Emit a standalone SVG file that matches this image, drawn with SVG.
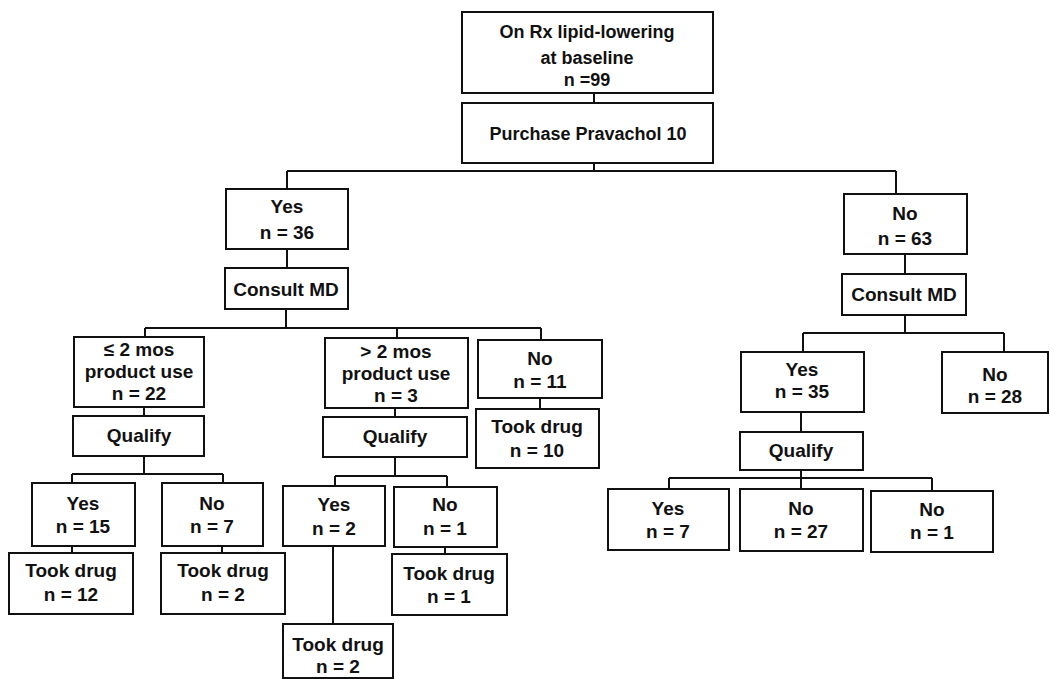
<svg xmlns="http://www.w3.org/2000/svg" width="1050" height="679" viewBox="0 0 1050 679">
<style>
.box{fill:#fff;stroke:#111;stroke-width:2}
.t{font-family:"Liberation Sans",Arial,sans-serif;font-weight:bold;font-size:19px;fill:#111;text-anchor:middle}
.r{font-size:18px}
.c{fill:none;stroke:#111;stroke-width:2}
</style>
<rect width="1050" height="679" fill="#fff"/>
<g id="connectors">
<path class="c" d="M594 93V103M594 163V171M287 171H896M287 171V189M896 171V194"/>
<path class="c" d="M287 249V268M286 309V328M145 328H541M145 328V337M397 328V338M541 328V340"/>
<path class="c" d="M144 407V416M144 456V474M72 474H223M72 474V483M223 474V483M72 546V553M222 546V553"/>
<path class="c" d="M395 408V417M395 457V476M335 476H447M335 476V486M447 476V487M333 546V624M445 547V554M540 398V409"/>
<path class="c" d="M905 254V274M905 315V333M803 333H1004M803 333V352M1004 333V352M801 412V432M801 470V478M669 478H932M669 478V489M801 478V489M932 478V491"/>
</g>
<g id="root"><rect class="box" x="462" y="12" width="251" height="81"/><text class="t r" x="587" y="38">On Rx lipid-lowering</text><text class="t r" x="587" y="64">at baseline</text><text class="t r" x="587" y="86">n =99</text></g>
<g id="purchase"><rect class="box" x="462" y="103" width="251" height="60"/><text class="t r" x="588" y="140">Purchase  Pravachol  10</text></g>
<g id="yes36"><rect class="box" x="226" y="189" width="122" height="60"/><text class="t" x="287" y="213">Yes</text><text class="t" x="287" y="239">n = 36</text></g>
<g id="consult-left"><rect class="box" x="225" y="268" width="123" height="41"/><text class="t" x="286" y="296">Consult MD</text></g>
<g id="le2mos"><rect class="box" x="74" y="337" width="130" height="70"/><text class="t" x="139" y="356">≤ 2 mos</text><text class="t" x="139" y="378">product use</text><text class="t" x="139" y="400">n = 22</text></g>
<g id="qualify-left"><rect class="box" x="73" y="416" width="131" height="40"/><text class="t" x="139" y="442">Qualify</text></g>
<g id="yes15"><rect class="box" x="32" y="483" width="103" height="63"/><text class="t" x="83" y="510">Yes</text><text class="t" x="83" y="533">n = 15</text></g>
<g id="no7"><rect class="box" x="162" y="483" width="101" height="63"/><text class="t" x="212" y="510">No</text><text class="t" x="212" y="533">n = 7</text></g>
<g id="took12"><rect class="box" x="9" y="553" width="124" height="61"/><text class="t" x="71" y="577">Took drug</text><text class="t" x="71" y="601">n = 12</text></g>
<g id="took2a"><rect class="box" x="161" y="553" width="124" height="61"/><text class="t" x="223" y="577">Took drug</text><text class="t" x="223" y="601">n = 2</text></g>
<g id="gt2mos"><rect class="box" x="325" y="338" width="143" height="70"/><text class="t" x="396" y="358">&gt; 2 mos</text><text class="t" x="396" y="380">product use</text><text class="t" x="396" y="402">n = 3</text></g>
<g id="qualify-mid"><rect class="box" x="323" y="417" width="144" height="40"/><text class="t" x="395" y="443">Qualify</text></g>
<g id="yes2"><rect class="box" x="283" y="486" width="102" height="60"/><text class="t" x="334" y="511">Yes</text><text class="t" x="334" y="535">n = 2</text></g>
<g id="no1a"><rect class="box" x="394" y="487" width="103" height="60"/><text class="t" x="445" y="511">No</text><text class="t" x="445" y="535">n = 1</text></g>
<g id="took1"><rect class="box" x="392" y="554" width="115" height="61"/><text class="t" x="449" y="580">Took drug</text><text class="t" x="449" y="603">n = 1</text></g>
<g id="took2b"><rect class="box" x="283" y="624" width="110" height="54"/><text class="t" x="338" y="651">Took drug</text><text class="t" x="338" y="673">n = 2</text></g>
<g id="no11"><rect class="box" x="478" y="340" width="124" height="58"/><text class="t" x="540" y="365">No</text><text class="t" x="540" y="388">n = 11</text></g>
<g id="took10"><rect class="box" x="476" y="409" width="123" height="59"/><text class="t" x="537" y="433">Took drug</text><text class="t" x="537" y="457">n = 10</text></g>
<g id="no63"><rect class="box" x="844" y="194" width="123" height="60"/><text class="t" x="905" y="220">No</text><text class="t" x="905" y="245">n = 63</text></g>
<g id="consult-right"><rect class="box" x="842" y="274" width="124" height="41"/><text class="t" x="904" y="301">Consult MD</text></g>
<g id="yes35"><rect class="box" x="741" y="352" width="123" height="60"/><text class="t" x="802" y="376">Yes</text><text class="t" x="802" y="398">n = 35</text></g>
<g id="no28"><rect class="box" x="942" y="352" width="106" height="61"/><text class="t" x="995" y="381">No</text><text class="t" x="995" y="403">n = 28</text></g>
<g id="qualify-right"><rect class="box" x="740" y="432" width="123" height="38"/><text class="t" x="801" y="457">Qualify</text></g>
<g id="yes7"><rect class="box" x="608" y="489" width="121" height="61"/><text class="t" x="668" y="515">Yes</text><text class="t" x="668" y="538">n = 7</text></g>
<g id="no27"><rect class="box" x="740" y="489" width="123" height="62"/><text class="t" x="801" y="515">No</text><text class="t" x="801" y="538">n = 27</text></g>
<g id="no1b"><rect class="box" x="871" y="491" width="122" height="61"/><text class="t" x="932" y="516">No</text><text class="t" x="932" y="539">n = 1</text></g>
</svg>
